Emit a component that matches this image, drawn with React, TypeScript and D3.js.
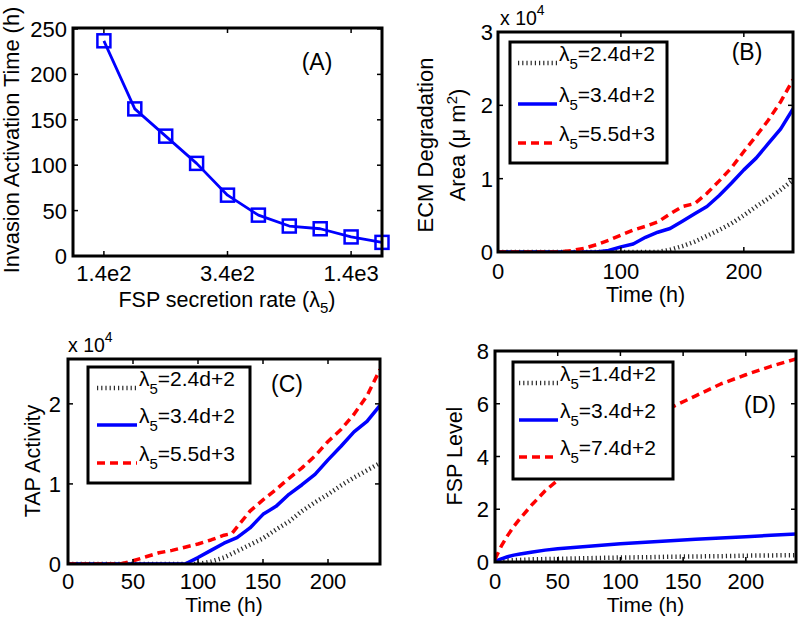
import React from "react";
import * as d3 from "d3";

const FONT = "'Liberation Sans', Arial, Helvetica, sans-serif";

// Panel A
const lambdaIndex = [1, 2, 3, 4, 5, 6, 7, 8, 9, 10];
const activationTime = [237, 162, 132, 102, 67, 45, 33, 30, 21, 15];
const aXTicks = [1, 5, 9];
const aXTickLabels = ["1.4e2", "3.4e2", "1.4e3"];
const aYTicks = [0, 50, 100, 150, 200, 250];

// Panel B (x 10^4)
const tB = [0, 10, 20, 30, 40, 50, 60, 70, 80, 90, 100, 110, 120, 130, 140, 150, 160, 170, 180, 190, 200, 210, 220, 230, 240];
const ecmGray = [0, 0, 0, 0, 0, 0, 0, 0, 0, 0, 0, 0, 0, 0, 0.03, 0.08, 0.14, 0.22, 0.3, 0.39, 0.5, 0.62, 0.73, 0.85, 0.98];
const ecmBlue = [0, 0, 0, 0, 0, 0, 0, 0, 0, 0.02, 0.07, 0.11, 0.2, 0.27, 0.32, 0.42, 0.52, 0.62, 0.77, 0.94, 1.12, 1.28, 1.48, 1.68, 1.95];
const ecmRed = [0, 0, 0, 0, 0, 0, 0.02, 0.05, 0.1, 0.16, 0.23, 0.3, 0.35, 0.41, 0.52, 0.62, 0.66, 0.8, 0.97, 1.15, 1.37, 1.58, 1.8, 2.05, 2.35];

// Panel C (x 10^4)
const tC = [0, 10, 20, 30, 40, 50, 60, 70, 80, 90, 100, 110, 120, 130, 140, 150, 160, 170, 180, 190, 200, 210, 220, 230, 240];
const tapGray = [0, 0, 0, 0, 0, 0, 0, 0, 0, 0, 0, 0.03, 0.08, 0.16, 0.24, 0.32, 0.43, 0.53, 0.66, 0.77, 0.87, 0.98, 1.08, 1.17, 1.26];
const tapBlue = [0, 0, 0, 0, 0, 0, 0, 0, 0, 0, 0.08, 0.17, 0.26, 0.33, 0.45, 0.62, 0.72, 0.87, 0.99, 1.12, 1.3, 1.47, 1.65, 1.78, 1.98];
const tCRed = [0, 40, 50, 60, 70, 80, 90, 100, 110, 120, 126, 130, 140, 150, 160, 170, 180, 190, 200, 210, 220, 230, 240];
const tapRed = [0, 0, 0.04, 0.09, 0.14, 0.17, 0.21, 0.25, 0.3, 0.36, 0.38, 0.46, 0.66, 0.8, 0.93, 1.07, 1.2, 1.35, 1.53, 1.68, 1.87, 2.1, 2.43];

// Panel D
const tD = [0, 2, 5, 10, 15, 20, 30, 40, 50, 60, 80, 100, 120, 140, 160, 180, 200, 220, 240];
const fspGray = [0, 0.02, 0.04, 0.06, 0.07, 0.08, 0.1, 0.11, 0.12, 0.13, 0.15, 0.17, 0.18, 0.2, 0.21, 0.22, 0.24, 0.25, 0.26];
const fspBlue = [0, 0.06, 0.12, 0.2, 0.26, 0.3, 0.38, 0.45, 0.5, 0.54, 0.62, 0.69, 0.75, 0.81, 0.86, 0.91, 0.96, 1.01, 1.06];
const fspRed = [0.1, 0.3, 0.6, 1.0, 1.35, 1.65, 2.2, 2.7, 3.1, 3.5, 4.2, 4.8, 5.35, 5.85, 6.3, 6.75, 7.1, 7.42, 7.7];

const legendBC = ["2.4d+2", "3.4d+2", "5.5d+3"];
const legendD = ["1.4d+2", "3.4d+2", "7.4d+2"];

const STYLES = [
  { stroke: "#2a2a2a", width: 4.5, dash: "1.2 3" },
  { stroke: "#0000ff", width: 3.5, dash: undefined as string | undefined },
  { stroke: "#ff0000", width: 3.5, dash: "8 5" },
];

const TICK_FS = 22;
const LABEL_FS = 21.5;

type Series = { t: number[]; v: number[] };

interface PanelProps {
  id: string;
  box: [number, number, number, number];
  xDomain: [number, number];
  yDomain: [number, number];
  xTicks: number[];
  xTickLabels: string[];
  yTicks: number[];
  yTickLabels: string[];
  series: Series[];
  legend: { labels: string[]; box: [number, number, number, number]; rows: number[]; sample: [number, number] };
  panelLabel: { text: string; x: number; y: number };
  xLabelY: number;
  xLabelFs: number;
  xTickY: number;
  yTickX: number;
  yLabel: React.ReactNode;
  exp?: { x: number; y: number };
}

function Box({ box, xs, ys, xTicks, yTicks }: any) {
  const [x0, x1, y0, y1] = box;
  return (
    <g>
      {xTicks.map((t: number, i: number) => (
        <g key={"xt" + i} stroke="#000" strokeWidth={1.5}>
          <line x1={xs(t)} x2={xs(t)} y1={y1} y2={y1 - 5} />
          <line x1={xs(t)} x2={xs(t)} y1={y0} y2={y0 + 5} />
        </g>
      ))}
      {yTicks.map((t: number, i: number) => (
        <g key={"yt" + i} stroke="#000" strokeWidth={1.5}>
          <line x1={x0} x2={x0 + 5} y1={ys(t)} y2={ys(t)} />
          <line x1={x1} x2={x1 - 5} y1={ys(t)} y2={ys(t)} />
        </g>
      ))}
      <rect x={x0} y={y0} width={x1 - x0} height={y1 - y0} fill="none" stroke="#000" strokeWidth={3} />
    </g>
  );
}

function Panel(p: PanelProps) {
  const [x0, x1, y0, y1] = p.box;
  const xs = d3.scaleLinear().domain(p.xDomain).range([x0, x1]);
  const ys = d3.scaleLinear().domain(p.yDomain).range([y1, y0]);
  const [lx0, lx1, ly0, ly1] = p.legend.box;
  return (
    <g fontFamily={FONT}>
      <defs>
        <clipPath id={"clip" + p.id}>
          <rect x={x0} y={y0} width={x1 - x0} height={y1 - y0} />
        </clipPath>
      </defs>
      <g clipPath={`url(#clip${p.id})`}>
        {p.series.map((s, i) => {
          const line = d3
            .line<number>()
            .x((_, j) => xs(s.t[j]))
            .y((d) => ys(d));
          return (
            <path
              key={i}
              d={line(s.v) || ""}
              fill="none"
              stroke={STYLES[i].stroke}
              strokeWidth={STYLES[i].width}
              strokeDasharray={STYLES[i].dash}
              strokeLinejoin="round"
            />
          );
        })}
      </g>
      <Box box={p.box} xs={xs} ys={ys} xTicks={p.xTicks} yTicks={p.yTicks} />
      <rect x={lx0} y={ly0} width={lx1 - lx0} height={ly1 - ly0} fill="#fff" stroke="#000" strokeWidth={3} />
      {p.legend.labels.map((lab, i) => (
        <g key={i}>
          <line
            x1={p.legend.sample[0]}
            x2={p.legend.sample[1]}
            y1={p.legend.rows[i]}
            y2={p.legend.rows[i]}
            stroke={STYLES[i].stroke}
            strokeWidth={STYLES[i].width}
            strokeDasharray={STYLES[i].dash}
          />
          <text x={p.legend.sample[1] + 2} y={p.legend.rows[i] - 2} fontSize={21}>
            λ<tspan dy={8} fontSize={15}>5</tspan>
            <tspan dy={-8}>={lab}</tspan>
          </text>
        </g>
      ))}
      {p.xTicks.map((t, i) => (
        <text key={"xl" + i} x={xs(t)} y={p.xTickY} fontSize={TICK_FS} textAnchor="middle">
          {p.xTickLabels[i]}
        </text>
      ))}
      {p.yTicks.map((t, i) => (
        <text key={"yl" + i} x={p.yTickX} y={ys(t) + 8} fontSize={TICK_FS} textAnchor="end">
          {p.yTickLabels[i]}
        </text>
      ))}
      <text x={(x0 + x1) / 2} y={p.xLabelY} fontSize={p.xLabelFs} textAnchor="middle">
        Time (h)
      </text>
      {p.yLabel}
      <text x={p.panelLabel.x} y={p.panelLabel.y} fontSize={23} textAnchor="middle">
        {p.panelLabel.text}
      </text>
      {p.exp && (
        <text x={p.exp.x} y={p.exp.y} fontSize={19.5}>
          x 10<tspan dy={-10} fontSize={14}>4</tspan>
        </text>
      )}
    </g>
  );
}

function PanelA() {
  const x0 = 73, x1 = 382, y0 = 28, y1 = 256;
  const xs = d3.scaleLinear().domain([0, 10]).range([x0, x1]);
  const ys = d3.scaleLinear().domain([0, 250]).range([y1, 29]);
  const line = d3
    .line<number>()
    .x((_, j) => xs(lambdaIndex[j]))
    .y((d) => ys(d));
  return (
    <g fontFamily={FONT}>
      <path d={line(activationTime) || ""} fill="none" stroke="#0000ff" strokeWidth={2.8} strokeLinejoin="round" />
      {activationTime.map((v, i) => (
        <rect
          key={i}
          x={xs(lambdaIndex[i]) - 6.5}
          y={ys(v) - 6.5}
          width={13}
          height={13}
          fill="none"
          stroke="#0000ff"
          strokeWidth={2.5}
        />
      ))}
      <Box box={[x0, x1, y0, y1]} xs={xs} ys={ys} xTicks={aXTicks} yTicks={aYTicks} />
      {aXTicks.map((t, i) => (
        <text key={i} x={xs(t)} y={281} fontSize={TICK_FS} textAnchor="middle">
          {aXTickLabels[i]}
        </text>
      ))}
      {aYTicks.map((t, i) => (
        <text key={i} x={67} y={ys(t) + 8} fontSize={TICK_FS} textAnchor="end">
          {t}
        </text>
      ))}
      <text x={227} y={307} fontSize={LABEL_FS} textAnchor="middle">
        FSP secretion rate (λ<tspan dy={6} fontSize={15}>5</tspan>
        <tspan dy={-6}>)</tspan>
      </text>
      <text transform={`translate(19,140) rotate(-90)`} fontSize={21.8} textAnchor="middle">
        Invasion Activation Time (h)
      </text>
      <text x={317} y={70} fontSize={23} textAnchor="middle">
        (A)
      </text>
    </g>
  );
}

export default function App() {
  return (
    <svg width={800} height={618} style={{ position: "absolute", left: 0, top: 0, background: "#fff" }}>
      <rect x={0} y={0} width={800} height={618} fill="#fff" />
      <PanelA />
      <Panel
        id="B"
        box={[498, 793, 32, 252]}
        xDomain={[0, 240]}
        yDomain={[0, 3]}
        xTicks={[0, 100, 200]}
        xTickLabels={["0", "100", "200"]}
        yTicks={[0, 1, 2, 3]}
        yTickLabels={["0", "1", "2", "3"]}
        series={[
          { t: tB, v: ecmGray },
          { t: tB, v: ecmBlue },
          { t: tB, v: ecmRed },
        ]}
        legend={{ labels: legendBC, box: [510, 667, 42, 163], rows: [63, 104, 143], sample: [518, 557] }}
        panelLabel={{ text: "(B)", x: 747, y: 60 }}
        xLabelY={302}
        xLabelFs={LABEL_FS}
        xTickY={279}
        yTickX={493}
        exp={{ x: 500, y: 25 }}
        yLabel={
          <g fontSize={22} textAnchor="middle">
            <text transform={`translate(433,145) rotate(-90)`}>ECM Degradation</text>
            <text transform={`translate(465,145) rotate(-90)`}>
              Area (μ m<tspan dy={-8} fontSize={15}>2</tspan>
              <tspan dy={8}>)</tspan>
            </text>
          </g>
        }
      />
      <Panel
        id="C"
        box={[68, 380, 359, 564]}
        xDomain={[0, 240]}
        yDomain={[0, 2.56]}
        xTicks={[0, 50, 100, 150, 200]}
        xTickLabels={["0", "50", "100", "150", "200"]}
        yTicks={[0, 1, 2]}
        yTickLabels={["0", "1", "2"]}
        series={[
          { t: tC, v: tapGray },
          { t: tC, v: tapBlue },
          { t: tCRed, v: tapRed },
        ]}
        legend={{ labels: legendBC, box: [88, 250, 367, 483], rows: [388, 425, 463], sample: [97, 137] }}
        panelLabel={{ text: "(C)", x: 287, y: 392 }}
        xLabelY={612}
        xLabelFs={21}
        xTickY={589}
        yTickX={61}
        exp={{ x: 68, y: 352 }}
        yLabel={
          <text transform={`translate(40,461) rotate(-90)`} fontSize={LABEL_FS} textAnchor="middle">
            TAP Activity
          </text>
        }
      />
      <Panel
        id="D"
        box={[495, 796, 351, 562]}
        xDomain={[0, 240]}
        yDomain={[0, 8]}
        xTicks={[0, 50, 100, 150, 200]}
        xTickLabels={["0", "50", "100", "150", "200"]}
        yTicks={[0, 2, 4, 6, 8]}
        yTickLabels={["0", "2", "4", "6", "8"]}
        series={[
          { t: tD, v: fspGray },
          { t: tD, v: fspBlue },
          { t: tD, v: fspRed },
        ]}
        legend={{ labels: legendD, box: [513, 673, 362, 479], rows: [383, 420, 457], sample: [519, 558] }}
        panelLabel={{ text: "(D)", x: 760, y: 413 }}
        xLabelY={612}
        xLabelFs={21}
        xTickY={589}
        yTickX={489}
        yLabel={
          <text transform={`translate(462,456) rotate(-90)`} fontSize={LABEL_FS} textAnchor="middle">
            FSP Level
          </text>
        }
      />
    </svg>
  );
}
